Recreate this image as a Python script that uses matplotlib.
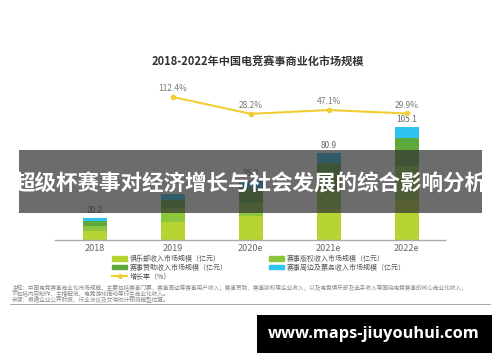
import numpy as np
import matplotlib.pyplot as plt
from matplotlib.patches import Rectangle, Patch
from matplotlib.lines import Line2D

plt.rcParams['font.family'] = ['Noto Sans CJK SC', 'DejaVu Sans']

# 数据
years = ['2018', '2019', '2020e', '2021e', '2022e']
club = [8.5, 16.8, 22.0, 28.5, 37.1]
rights = [4.8, 13.0, 12.0, 18.4, 32.0]
sponsor = [4.8, 7.5, 14.0, 25.0, 26.0]
merch = [2.1, 5.6, 7.0, 9.0, 10.0]
totals = [20.2, 42.9, 55.0, 80.9, 105.1]
total_labels = ['20.2', '', '55.0', '80.9', '105.1']  # 2019的标签被横幅遮住
growth = [112.4, 28.2, 47.1, 29.9]
growth_years = ['2019', '2020e', '2021e', '2022e']

names = ['俱乐部收入市场规模（亿元）', '赛事版权收入市场规模（亿元）',
         '赛事赞助收入市场规模（亿元）', '赛事周边及票务收入市场规模（亿元）', '增长率（%）']
colors = ['#b6d432', '#8cc63e', '#5da93b', '#2ec4f0']
line_color = '#f0cd33'

fig = plt.figure(figsize=(5, 3.62), dpi=100)
ax = fig.add_axes([55/500, 122/362, 390/500, 160/362])

x = np.arange(len(years))
bottom = np.zeros(len(years))
for vals, c in zip([club, rights, sponsor, merch], colors):
    ax.bar(x, vals, width=0.31, bottom=bottom, color=c, zorder=2)
    bottom += np.array(vals)

for xi, t, lab in zip(x, totals, total_labels):
    ax.text(xi, t + 3, lab, ha='center', va='bottom', fontsize=6, color='#666666')

ax.set_xlim(-0.51, 4.49)
ax.set_ylim(0, 160/1.075)
ax.set_xticks(x)
ax.set_xticklabels(years, fontsize=6.5, color='#666666')
ax.tick_params(length=0, pad=3)
ax.set_yticks([])
for s in ['top', 'right', 'left']:
    ax.spines[s].set_visible(False)
ax.spines['bottom'].set_color('#aaaaaa')
ax.spines['bottom'].set_linewidth(1)

ax2 = ax.twinx()
gx = [years.index(g) for g in growth_years]
ax2.plot(gx, growth, color=line_color, lw=1.5, marker='o', ms=3, zorder=3)
for xi, g in zip(gx, growth):
    ax2.text(xi, g + 18, f'{g}%', ha='center', va='bottom', fontsize=6, color='#777777')
ax2.set_ylim(-602.6, 197.4)
ax2.axis('off')

fig.text(0.516, 1 - 62/362, '2018-2022年中国电竞赛事商业化市场规模', ha='center', va='center',
         fontsize=8, fontweight='bold', color='#333333')

# 图例
handles = [Patch(color=colors[0]), Patch(color=colors[2]),
           Line2D([0], [0], color=line_color, marker='o', ms=2.5, lw=1.5),
           Patch(color=colors[1]), Patch(color=colors[3])]
labels = [names[0], names[2], names[4], names[1], names[3]]
fig.legend(handles, labels, loc='upper left', bbox_to_anchor=(112/500, 1 - 255/362),
           ncol=2, frameon=False, fontsize=5, handlelength=2.2, handleheight=0.55,
           labelspacing=0.12, columnspacing=5.9, handletextpad=0.35, labelcolor='#555555',
           borderpad=0, borderaxespad=0)

# 注释
notes = ['注释：中国电竞赛事商业化市场规模，主要包括赛事门票、赛事周边等赛事用户收入；赛事赞助、赛事版权等企业收入，以及电竞俱乐部及选手收入等围绕电竞赛事的核心商业化收入；',
         '不包括内容制作、主播解说、电竞游戏推动等衍生商业化收入。',
         '来源：根据企业公开财报、行业访谈及艾瑞统计预测模型估算。']
for i, n in enumerate(notes):
    fig.text(12/500, 1 - (288 + i*6)/362, n, fontsize=4.1, color='#8a8a8a', va='center')
fig.add_artist(Line2D([10/500, 490/500], [1 - 304/362, 1 - 304/362], color='#999999', lw=0.6))

# 横幅
fig.add_artist(Rectangle((19/500, 1 - 213/362), 463/500, 63/362, transform=fig.transFigure,
                         facecolor='#333333', alpha=0.72, zorder=10))
fig.text(250/500, 1 - 183/362, '超级杯赛事对经济增长与社会发展的综合影响分析', ha='center', va='center',
         fontsize=15.5, fontweight='bold', color='white', zorder=11)

fig.add_artist(Rectangle((257/500, 1 - 353/362), 235/500, 38/362, transform=fig.transFigure,
                         facecolor='black', zorder=10))
fig.text(374/500, 1 - 334/362, 'www.maps-jiuyouhui.com', ha='center', va='center',
         fontsize=11.8, fontweight='bold', color='white', zorder=11, family='Open Sans')

fig.savefig('out.png', dpi=100)
